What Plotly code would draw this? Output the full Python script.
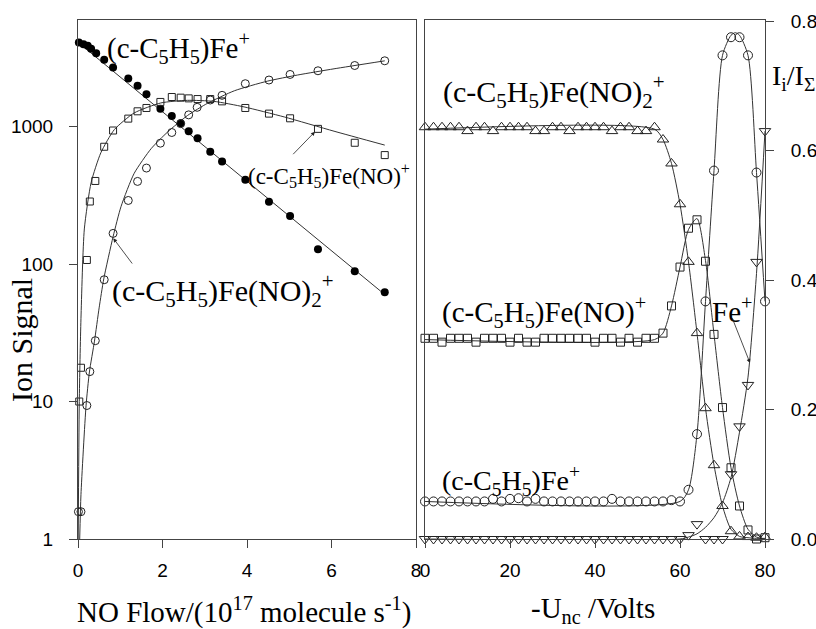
import plotly.graph_objects as go

# ---------------- Left panel: ion signal vs NO flow ----------------
flow_fe = [0.02, 0.13, 0.23, 0.31, 0.43, 0.62, 0.83, 1.19, 1.41, 1.62, 1.95, 2.22,
           2.43, 2.62, 2.83, 3.13, 3.41, 3.96, 4.52, 5.02, 5.68, 6.55, 7.26]
sig_fe = [4085, 3975, 3865, 3675, 3420, 3060, 2690, 2240, 1980, 1715, 1350, 1195,
          1057, 925, 823, 656, 556, 411, 284, 224, 128, 88.5, 62.4]

flow_no = [0.03, 0.07, 0.21, 0.28, 0.41, 0.62, 0.83, 1.19, 1.41, 1.62, 1.95, 2.22,
           2.43, 2.62, 2.83, 3.13, 3.41, 3.96, 4.52, 5.02, 5.68, 6.55, 7.26]
sig_no = [10, 17.6, 107, 285, 402, 713, 936, 1142, 1291, 1365, 1510, 1640,
          1622, 1603, 1585, 1585, 1525, 1365, 1242, 1148, 962, 762, 620]

flow_no2 = [0.01, 0.07, 0.21, 0.28, 0.41, 0.62, 0.83, 1.19, 1.41, 1.62, 1.95, 2.22,
            2.43, 2.62, 2.82, 3.13, 3.41, 3.96, 4.52, 5.02, 5.68, 6.55, 7.26]
sig_no2 = [1.58, 1.58, 9.35, 16.5, 27.7, 76.9, 167, 290, 399, 499, 757, 905,
           1050, 1216, 1380, 1560, 1687, 2050, 2180, 2393, 2545, 2780, 3008]

# fitted curves
fit_fe_x = [0.0, 7.26]
fit_fe_y = [4100, 60]
fit_no_x = [0.005, 0.03, 0.07, 0.15, 0.31, 0.54, 0.86, 1.33, 1.96, 2.59, 3.22, 3.93, 4.88, 6.06, 7.26]
fit_no_y = [1, 10, 40, 180, 391, 644, 950, 1256, 1485, 1551, 1524, 1390, 1175, 925, 733]
fit_no2_x = [0.04, 0.07, 0.19, 0.27, 0.39, 0.50, 0.61, 0.83, 1.02, 1.33, 1.73, 2.12, 2.59,
             3.07, 3.70, 4.48, 5.20, 6.06, 7.26]
fit_no2_y = [1, 2.1, 9.3, 16.4, 27.5, 48, 78, 158, 263, 457, 690, 912, 1202,
             1479, 1820, 2138, 2371, 2630, 3006]

# ---------------- Right panel: fractions vs -U_nc ----------------
volts = list(range(0, 82, 2))
frac_no2 = [0.636, 0.636, 0.636, 0.636, 0.636, 0.630, 0.636, 0.636, 0.630, 0.636,
            0.636, 0.636, 0.636, 0.630, 0.630, 0.636, 0.636, 0.630, 0.636, 0.636,
            0.636, 0.636, 0.630, 0.636, 0.636, 0.630, 0.630, 0.636,
            0.617, 0.580, 0.517, 0.428, 0.318, 0.202, 0.114, 0.051, 0.012, 0.004,
            0.003, 0.002, 0.003]
frac_no = [0.310, 0.310, 0.304, 0.310, 0.310, 0.310, 0.304, 0.310, 0.310, 0.310,
           0.304, 0.310, 0.304, 0.304, 0.310, 0.310, 0.310, 0.310, 0.310, 0.310,
           0.304, 0.310, 0.310, 0.304, 0.310, 0.304, 0.310, 0.310,
           0.318, 0.360, 0.420, 0.480, 0.493, 0.429, 0.316, 0.203, 0.110, 0.051,
           0.014, 0.000, 0.002]
frac_cpfe = [0.058, 0.058, 0.058, 0.058, 0.058, 0.058, 0.058, 0.058, 0.062, 0.058,
             0.062, 0.063, 0.058, 0.062, 0.058, 0.058, 0.058, 0.058, 0.058, 0.058,
             0.058, 0.058, 0.062, 0.058, 0.058, 0.058, 0.058, 0.058, 0.058, 0.060,
             0.058,
             0.076, 0.162, 0.367, 0.569, 0.747, 0.775, 0.775, 0.747, 0.566, 0.367]
frac_fe = [0.0] * 31 + [0.006, 0.023, 0.0, 0.0, 0.0, 0.100, 0.174, 0.238, 0.428, 0.630]

curve_no2_x = [0, 54, 56, 58, 60, 62, 64, 66, 68, 70, 72, 74, 76, 78, 80]
curve_no2_y = [0.633, 0.633, 0.617, 0.580, 0.517, 0.428, 0.318, 0.202, 0.114, 0.051,
               0.015, 0.004, 0.002, 0.001, 0.001]
curve_no_x = [0, 54, 56, 58, 60, 62, 64, 66, 68, 70, 72, 74, 76, 78, 80]
curve_no_y = [0.308, 0.308, 0.318, 0.360, 0.420, 0.478, 0.495, 0.430, 0.316, 0.203,
              0.110, 0.051, 0.015, 0.003, 0.0]
curve_cpfe_x = [0, 60, 62, 64, 66, 68, 70, 72, 73, 74, 76, 78, 80]
curve_cpfe_y = [0.058, 0.058, 0.076, 0.162, 0.367, 0.569, 0.747, 0.778, 0.782, 0.778,
                0.747, 0.566, 0.367]
curve_fe_x = [0, 60, 62, 64, 66, 68, 70, 72, 74, 76, 78, 80]
curve_fe_y = [0.0, 0.0, 0.003, 0.008, 0.018, 0.033, 0.056, 0.095, 0.165, 0.250, 0.410, 0.630]

W, H = 816, 629
def px(x):
    return x / W
def py(y):
    return 1 - y / H

LINE = dict(color="#333333", width=1)
SERIF = "Liberation Serif, Times New Roman, serif"
SANS = "Liberation Sans, Arial, sans-serif"
MK = "#222222"

fig = go.Figure()

# left curves
fig.add_trace(go.Scatter(x=fit_fe_x, y=fit_fe_y, mode="lines", line=LINE, xaxis="x", yaxis="y"))
fig.add_trace(go.Scatter(x=fit_no_x, y=fit_no_y, mode="lines", line=dict(LINE, shape="spline", smoothing=0.6),
                         xaxis="x", yaxis="y"))
fig.add_trace(go.Scatter(x=fit_no2_x, y=fit_no2_y, mode="lines", line=dict(LINE, shape="spline", smoothing=0.6),
                         xaxis="x", yaxis="y"))
# left markers
fig.add_trace(go.Scatter(x=flow_fe, y=sig_fe, mode="markers", xaxis="x", yaxis="y",
                         marker=dict(symbol="circle", size=8, color="black")))
fig.add_trace(go.Scatter(x=flow_no, y=sig_no, mode="markers", xaxis="x", yaxis="y",
                         marker=dict(symbol="square-open", size=7, color=MK, line=dict(width=1))))
fig.add_trace(go.Scatter(x=flow_no2, y=sig_no2, mode="markers", xaxis="x", yaxis="y",
                         marker=dict(symbol="circle-open", size=8, color=MK, line=dict(width=1))))

# right curves
for cx, cy in [(curve_no2_x, curve_no2_y), (curve_no_x, curve_no_y),
               (curve_cpfe_x, curve_cpfe_y), (curve_fe_x, curve_fe_y)]:
    fig.add_trace(go.Scatter(x=cx, y=cy, mode="lines", xaxis="x2", yaxis="y2",
                             line=dict(LINE, shape="spline", smoothing=0.7)))
# right markers
fig.add_trace(go.Scatter(x=volts, y=frac_no2, mode="markers", xaxis="x2", yaxis="y2",
                         marker=dict(symbol="triangle-up-open", size=10, color=MK, line=dict(width=1))))
fig.add_trace(go.Scatter(x=volts, y=frac_no, mode="markers", xaxis="x2", yaxis="y2",
                         marker=dict(symbol="square-open", size=8, color=MK, line=dict(width=1))))
fig.add_trace(go.Scatter(x=volts, y=frac_cpfe, mode="markers", xaxis="x2", yaxis="y2",
                         marker=dict(symbol="circle-open", size=9, color=MK, line=dict(width=1))))
fig.add_trace(go.Scatter(x=volts, y=frac_fe, mode="markers", xaxis="x2", yaxis="y2",
                         marker=dict(symbol="triangle-down-open", size=10, color=MK, line=dict(width=1))))

for tr in fig.data:
    tr.cliponaxis = False

ax_common = dict(showline=True, linecolor="#444444", linewidth=1, mirror=True,
                 ticks="outside", ticklen=8, tickcolor="#444444", showgrid=False,
                 zeroline=False, tickfont=dict(family=SANS, size=19, color="black"),
                 automargin=False)
ydom = [1 - 539 / H, 1 - 20 / H]

fig.update_layout(
    width=W, height=H, margin=dict(l=0, r=0, t=0, b=0),
    paper_bgcolor="white", plot_bgcolor="white", showlegend=False,
    xaxis=dict(ax_common, domain=[px(78), px(416)], range=[0, 8], tickvals=[0, 2, 4, 6, 8],
               anchor="y", ticklabelstandoff=6),
    yaxis=dict(ax_common, domain=ydom, type="log", range=[0, 3.775],
               tickvals=[1, 10, 100, 1000], ticktext=["1", "10", "100", "1000"],
               anchor="x", ticklabelstandoff=12),
    xaxis2=dict(ax_common, domain=[px(425), px(765)], range=[0, 80],
                tickvals=[0, 20, 40, 60, 80], anchor="y2", ticklabelstandoff=6),
    yaxis2=dict(ax_common, domain=ydom, range=[0, 0.8016], side="right",
                tickvals=[0, 0.2, 0.4, 0.6, 0.8], ticktext=["0.0", "0.2", "0.4", "0.6", "0.8"],
                anchor="x2", ticklabelstandoff=13),
)

def label(text, x, y, size=30, xanchor="left"):
    fig.add_annotation(text=text, x=px(x), y=py(y), xref="paper", yref="paper",
                       xanchor=xanchor, yanchor="middle", showarrow=False,
                       font=dict(family=SERIF, size=size, color="black"))

def arrow(tail, head):
    fig.add_annotation(text="", x=px(head[0]), y=py(head[1]), xref="paper", yref="paper",
                       ax=tail[0] - head[0], ay=tail[1] - head[1], showarrow=True,
                       arrowhead=2, arrowsize=1, arrowwidth=0.8, arrowcolor="#222222")

# left panel labels
label("(c-C<sub>5</sub>H<sub>5</sub>)Fe<sup>+</sup>", 105, 48, 29)
label("(c-C<sub>5</sub>H<sub>5</sub>)Fe(NO)<sup>+</sup>", 246, 176, 23)
label("(c-C<sub>5</sub>H<sub>5</sub>)Fe(NO)<sub>2</sub><sup>+</sup>", 110, 290, 30)
arrow((291.7, 155.7), (315, 131.7))
arrow((133.3, 265), (113.3, 238.3))

# right panel labels
label("(c-C<sub>5</sub>H<sub>5</sub>)Fe(NO)<sub>2</sub><sup>+</sup>", 441, 92, 30)
label("(c-C<sub>5</sub>H<sub>5</sub>)Fe(NO)<sup>+</sup>", 440, 312, 29)
label("(c-C<sub>5</sub>H<sub>5</sub>)Fe<sup>+</sup>", 440, 481, 28)
label("Fe<sup>+</sup>", 710, 310, 29)
arrow((731.7, 316.7), (750, 363))

# axis titles
label("NO Flow/(10<sup>17</sup> molecule s<sup>-1</sup>)", 244, 610, 29, xanchor="center")
label("-U<sub>nc</sub> /Volts", 593, 610, 29, xanchor="center")
label("I<sub>i</sub>/I<sub>Σ</sub>", 793, 77, 28, xanchor="center")
fig.add_annotation(text="Ion Signal", x=px(21), y=py(340), xref="paper", yref="paper",
                   textangle=-90, showarrow=False, xanchor="center", yanchor="middle",
                   font=dict(family=SERIF, size=30, color="black"))

fig.write_html("out.html")
